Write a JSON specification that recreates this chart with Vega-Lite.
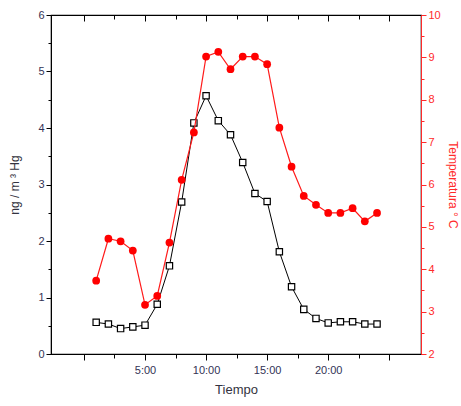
{
  "$schema": "https://vega.github.io/schema/vega-lite/v6.json",
  "width": 370,
  "height": 339,
  "autosize": "none",
  "padding": {"left": 51, "top": 15, "right": 40, "bottom": 52},
  "background": "white",
  "config": {
    "view": {"stroke": "black", "strokeWidth": 1.2},
    "font": "Liberation Sans",
    "axis": {"grid": false, "labelFont": "Liberation Sans", "titleFont": "Liberation Sans", "titleFontWeight": "normal", "labelFontSize": 11, "titleFontSize": 12}
  },
  "data": {
    "values": [
      {"hora": 1, "hg": 0.56, "temp": 3.73},
      {"hora": 2, "hg": 0.53, "temp": 4.72},
      {"hora": 3, "hg": 0.45, "temp": 4.66},
      {"hora": 4, "hg": 0.48, "temp": 4.44},
      {"hora": 5, "hg": 0.51, "temp": 3.16},
      {"hora": 6, "hg": 0.88, "temp": 3.37},
      {"hora": 7, "hg": 1.56, "temp": 4.63},
      {"hora": 8, "hg": 2.69, "temp": 6.11},
      {"hora": 9, "hg": 4.09, "temp": 7.23},
      {"hora": 10, "hg": 4.57, "temp": 9.02},
      {"hora": 11, "hg": 4.13, "temp": 9.13},
      {"hora": 12, "hg": 3.88, "temp": 8.72},
      {"hora": 13, "hg": 3.39, "temp": 9.02},
      {"hora": 14, "hg": 2.84, "temp": 9.02},
      {"hora": 15, "hg": 2.70, "temp": 8.84},
      {"hora": 16, "hg": 1.81, "temp": 7.34},
      {"hora": 17, "hg": 1.19, "temp": 6.42},
      {"hora": 18, "hg": 0.79, "temp": 5.73},
      {"hora": 19, "hg": 0.63, "temp": 5.52},
      {"hora": 20, "hg": 0.55, "temp": 5.33},
      {"hora": 21, "hg": 0.57, "temp": 5.33},
      {"hora": 22, "hg": 0.57, "temp": 5.44},
      {"hora": 23, "hg": 0.53, "temp": 5.13},
      {"hora": 24, "hg": 0.53, "temp": 5.33}
    ]
  },
  "layer": [
    {
      "encoding": {
        "x": {
          "field": "hora", "type": "quantitative",
          "scale": {"domain": [-2.7, 27.6], "nice": false, "zero": false},
          "axis": {
            "orient": "bottom",
            "title": "Tiempo",
            "titleColor": "#333340",
            "titleFontSize": 13,
            "titlePadding": 8,
            "values": [0, 2.5, 5, 7.5, 10, 12.5, 15, 17.5, 20, 22.5, 25],
            "labelExpr": "datum.value % 5 === 0 && datum.value > 0 && datum.value < 25 ? datum.value + ':00' : ''",
            "labelColor": "#333355",
            "domainColor": "black",
            "tickColor": "black",
            "tickSize": {"condition": {"test": "datum.value % 5 === 0", "value": 6}, "value": 4},
            "labelPadding": 4
          }
        },
        "y": {
          "field": "hg", "type": "quantitative",
          "scale": {"domain": [0, 6], "nice": false},
          "axis": {
            "title": "ng / m ³ Hg",
            "titleColor": "#333340",
            "titlePadding": 16,
            "values": [0, 0.5, 1, 1.5, 2, 2.5, 3, 3.5, 4, 4.5, 5, 5.5, 6],
            "labelExpr": "datum.value % 1 === 0 ? datum.value : ''",
            "labelColor": "#333355",
            "domainColor": "black",
            "tickColor": "black",
            "tickSize": {"condition": {"test": "datum.value % 1 === 0", "value": 5}, "value": 3},
            "labelPadding": 2
          }
        }
      },
      "layer": [
        {"mark": {"type": "line", "color": "black", "strokeWidth": 1}},
        {"mark": {"type": "point", "shape": "square", "filled": true, "fill": "white", "stroke": "black", "strokeWidth": 1.2, "size": 40, "opacity": 1}}
      ]
    },
    {
      "encoding": {
        "x": {
          "field": "hora", "type": "quantitative",
          "scale": {"domain": [-2.7, 27.6], "nice": false, "zero": false},
          "axis": {
            "orient": "top",
            "title": null,
            "values": [0, 2.5, 5, 7.5, 10, 12.5, 15, 17.5, 20, 22.5, 25],
            "labels": false,
            "domainColor": "black",
            "tickColor": "black",
            "tickSize": {"condition": {"test": "datum.value % 5 === 0", "value": -6}, "value": -4}
          }
        },
        "y": {
          "field": "temp", "type": "quantitative",
          "scale": {"domain": [2, 10], "nice": false, "zero": false},
          "axis": {
            "orient": "right",
            "title": "Temperatura ° C",
            "titleColor": "#ff2a2a",
            "titlePadding": 5,
            "values": [2, 2.5, 3, 3.5, 4, 4.5, 5, 5.5, 6, 6.5, 7, 7.5, 8, 8.5, 9, 9.5, 10],
            "labelExpr": "datum.value % 1 === 0 ? datum.value : ''",
            "labelColor": "#ff2a2a",
            "domainColor": "#ff2a2a",
            "tickColor": "#ff2a2a",
            "tickSize": {"condition": {"test": "datum.value % 1 === 0", "value": 5}, "value": 3},
            "labelPadding": 2
          }
        }
      },
      "layer": [
        {"mark": {"type": "line", "color": "#ff1a1a", "strokeWidth": 1.2}},
        {"mark": {"type": "point", "shape": "circle", "filled": true, "color": "#ff0000", "size": 60, "opacity": 1}}
      ]
    }
  ],
  "resolve": {"scale": {"y": "independent"}, "axis": {"x": "independent"}}
}
